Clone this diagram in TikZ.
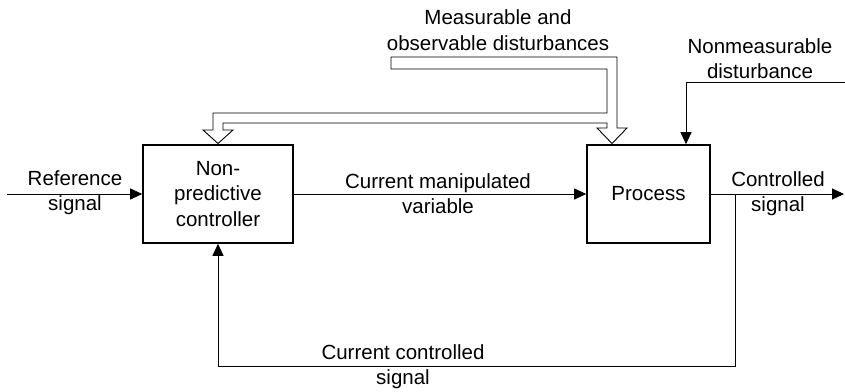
\documentclass[tikz,border=0pt]{standalone}
\usepackage{fontspec}
\setmainfont{Liberation Sans}
\usetikzlibrary{arrows.meta}
\newcommand\lblfont{\fontsize{20.5}{25.5}\selectfont}
\begin{document}
\begin{tikzpicture}[x=1pt,y=-1pt,
  blockbox/.style={draw,line width=1.6pt,minimum height=98pt,align=center,inner sep=0pt,font=\lblfont},
  lbl/.style={align=center,inner sep=0pt,font=\lblfont},
  sig/.style={line width=0.9pt,-{Triangle[length=12pt,width=11pt]}},
  wide/.style={line width=0.9pt,fill=white,line join=miter}]
\useasboundingbox (0,0) rectangle (845,391);

% blocks
\node[blockbox,minimum width=150pt] (ctrl) at (218,194) {Non-\\predictive\\controller};
\node[blockbox,minimum width=123pt] (proc) at (648.5,194) {Process};

% signal coordinates
\coordinate (refin) at (7,194);
\coordinate (out) at (844,194);
\coordinate (tap) at (735,194);
\coordinate (fbcorner) at (735,366);
\coordinate (nmsrc) at (845,82);
\coordinate (nmx) at (686,82);

% signal lines
\draw[sig] (refin) -- (ctrl.west);
\draw[sig] (ctrl.east) -- (proc.west);
\draw[sig] (proc.east) -- (out);
\draw[sig] (tap) -- (fbcorner) -| (ctrl.south);
\draw[sig] (nmsrc) -- (nmx) -- (nmx |- proc.north);

% measurable disturbances: hollow double arrow feeding both blocks
\draw[wide] (391,57) -- (617,57) -- (617,128) -- (627,128) -- (612,143.5)
  -- (597,128) -- (607,128) -- (607,123) -- (223,123) -- (223,130)
  -- (233,130) -- (218,143.5) -- (203,130) -- (213,130) -- (213,113)
  -- (607,113) -- (607,69) -- (391,69) -- cycle;

% labels
\node[lbl] (reflbl) at (75,192.5) {Reference\\signal};
\node[lbl] (manlbl) at (438,193.5) {Current manipulated\\variable};
\node[lbl] (ctllbl) at (778,193.5) {Controlled\\signal};
\node[lbl] (fblbl) at (403,366.5) {Current controlled\\signal};
\node[lbl] (measlbl) at (498,30) {Measurable and\\observable disturbances};
\node[lbl] (nmlbl) at (760,58.5) {Nonmeasurable\\disturbance};
\end{tikzpicture}
\end{document}
